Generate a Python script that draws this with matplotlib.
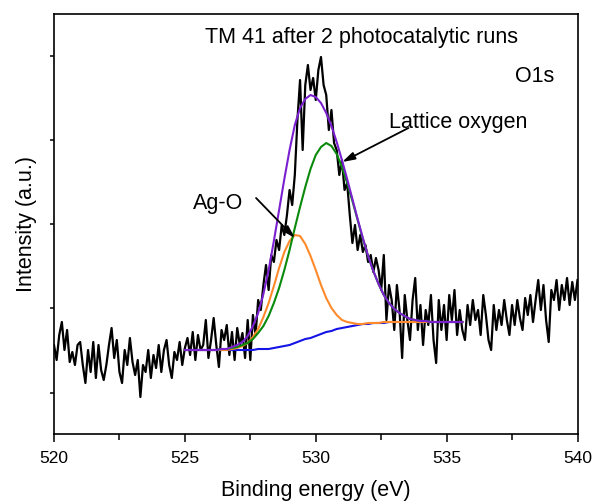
import numpy as np
import matplotlib
matplotlib.use("Agg")
import matplotlib.pyplot as plt

plt.rcParams['font.family'] = ['Liberation Sans', 'DejaVu Sans']

# Measured O1s spectrum (0.1 eV step, 520-540 eV)
energy = np.round(np.arange(520.0, 540.001, 0.1), 1)
intensity = [
    89, 74, 99, 112, 84, 104, 72, 82, 69, 89, 92,
    69, 51, 84, 62, 92, 56, 89, 64, 54, 69,
    89, 106, 76, 94, 62, 51, 84, 69, 96, 72,
    59, 74, 37, 69, 62, 84, 56, 79, 66, 89,
    62, 84, 94, 69, 56, 82, 74, 92, 69, 86,
    96, 79, 102, 74, 99, 84, 89, 114, 76, 94,
    116, 89, 67, 104, 94, 109, 79, 102, 74, 106,
    89, 101, 76, 114, 74, 119, 99, 134, 124, 149,
    169, 144, 179, 172, 194, 184, 209, 199, 219, 244,
    229, 259, 314, 354, 284, 349, 369, 344, 356, 334,
    364, 377, 349, 339, 304, 324, 291, 284, 259, 274,
    244, 251, 219, 191, 209, 184, 199, 182, 189, 172,
    179, 162, 176, 164, 144, 179, 114, 149, 134, 104,
    149, 124, 76, 139, 114, 94, 134, 156, 104, 129,
    89, 124, 109, 139, 94, 71, 134, 104, 129, 94,
    139, 114, 144, 99, 124, 104, 94, 129, 109, 134,
    114, 124, 99, 139, 119, 94, 84, 129, 104, 124,
    109, 134, 114, 99, 129, 109, 134, 116, 104, 136,
    119, 139, 112, 134, 154, 124, 149, 114, 92, 144,
    134, 154, 124, 149, 134, 156, 129, 152, 134, 154,
]

# Fitted curves (0.2 eV step, 525.0-535.6 eV)
fit_energy = np.round(np.arange(525.0, 535.601, 0.2), 1)
background = [84, 84, 84, 84, 84, 84, 84, 84, 84, 84, 84, 84, 84, 84, 85, 85, 85, 86,
              87, 88, 89, 91, 93, 95, 96, 98, 100, 102, 103, 105, 106, 107, 108, 109,
              110, 110, 111, 111, 111, 112, 112, 112, 112, 112, 112, 112, 112, 112,
              112, 112, 112, 112, 112, 112]
ag_o = [84, 84, 84, 84, 84, 84, 84, 84, 84, 85, 86, 88, 91, 97, 105, 117, 131, 148,
        166, 182, 193, 199, 198, 190, 178, 164, 149, 136, 126, 119, 114, 112, 111, 110,
        110, 111, 111, 111, 112, 112, 112, 112, 112, 112, 112, 112, 112, 112,
        112, 112, 112, 112, 112, 112]
lattice_o = [84, 84, 84, 84, 84, 84, 84, 85, 85, 86, 87, 89, 91, 95, 101, 108, 118, 131,
             146, 164, 184, 206, 227, 247, 265, 279, 287, 291, 288, 280, 267, 251, 233, 214,
             195, 178, 163, 150, 139, 131, 125, 121, 118, 115, 114, 113, 113, 112,
             112, 112, 112, 112, 112, 112]
envelope = [84, 84, 84, 84, 84, 84, 84, 85, 85, 87, 89, 92, 98, 108, 121, 140, 164, 193,
            224, 255, 284, 309, 326, 335, 339, 337, 331, 321, 308, 292, 274, 255, 235, 215,
            196, 178, 163, 150, 139, 131, 125, 121, 118, 115, 114, 113, 113, 112,
            112, 112, 112, 112, 112, 112]

fig = plt.figure(figsize=(5.96, 5.01), dpi=100)
ax = fig.add_axes([54/596, 1-434/501, (577.5-54)/596, (434-14)/501])
ax.plot(energy, intensity, color='black', lw=1.6)
ax.plot(fit_energy, background, color='#1414e6', lw=1.5)
ax.plot(fit_energy, ag_o, color='#ff8a2b', lw=1.5)
ax.plot(fit_energy, lattice_o, color='#0a8a0a', lw=1.5)
ax.plot(fit_energy, envelope, color='#7a20d0', lw=1.5)

ax.set_xlim(520, 540)
ax.set_ylim(0, 420)
ax.set_xticks([520, 525, 530, 535, 540])
ax.set_xticks([522.5, 527.5, 532.5, 537.5], minor=True)
ax.set_yticks([41, 126, 210, 294, 378])
ax.set_yticklabels([])
ax.tick_params(axis='x', which='major', direction='out', length=6, width=1.1, labelsize=12.5, pad=6)
ax.tick_params(axis='x', which='minor', direction='out', length=4, width=1.1)
ax.tick_params(axis='y', direction='out', length=3, width=1.1)
for s in ax.spines.values():
    s.set_linewidth(1.2)
ax.set_xlabel('Binding energy (eV)', fontsize=15.5, labelpad=10)
ax.set_ylabel('Intensity (a.u.)', fontsize=15.5, labelpad=6)

ax.text(525.77, 391, 'TM 41 after 2 photocatalytic runs', fontsize=15.5, ha='left', va='baseline')
ax.text(537.63, 352, 'O1s', fontsize=15.5, ha='left', va='baseline')
ax.text(532.81, 306, 'Lattice oxygen', fontsize=15.5, ha='left', va='baseline')
ax.text(525.32, 225, 'Ag-O', fontsize=15.5, ha='left', va='baseline')
ax.annotate('', xy=(529.2, 196), xytext=(527.72, 236),
            arrowprops=dict(arrowstyle='-|>,head_length=0.5,head_width=0.15', color='black',
                            lw=1.3, mutation_scale=15, shrinkA=0, shrinkB=0))
ax.annotate('', xy=(531.01, 272), xytext=(533.54, 306),
            arrowprops=dict(arrowstyle='-|>,head_length=0.5,head_width=0.15', color='black',
                            lw=1.3, mutation_scale=15, shrinkA=0, shrinkB=0))

fig.savefig('out.png', dpi=100)
